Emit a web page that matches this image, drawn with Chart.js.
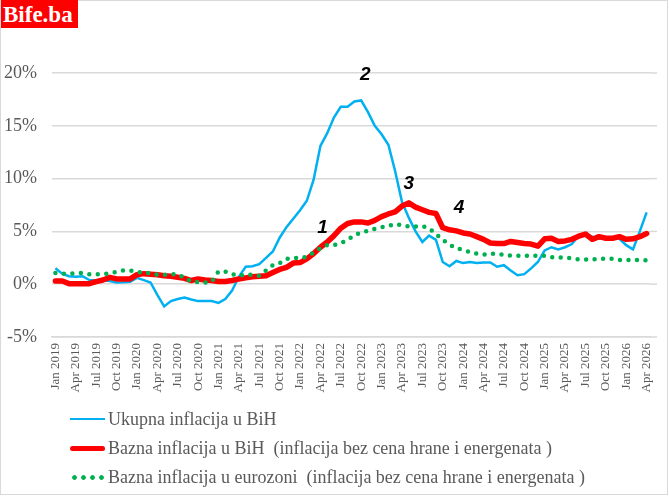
<!DOCTYPE html>
<html>
<head>
<meta charset="utf-8">
<script src="https://cdn.jsdelivr.net/npm/chart.js@4.4.1/dist/chart.umd.min.js"></script>
<style>
  body { margin: 0; background: #fff; }
  #wrap { position: relative; width: 669px; height: 498px; }
  #frame { position: absolute; left: 0; top: 0; width: 666px; height: 493px; border: 1px solid #d9d9d9; }
  #logo { position: absolute; left: 1px; top: 0; width: 77px; height: 28px; background: #ff0000;
          color: #fff; font: bold 23px "Liberation Serif", serif; line-height: 29px; padding-left: 2px; box-sizing: border-box; }
  .leg { position: absolute; left: 70px; height: 24px; display: flex; align-items: center;
         font: 18px "Liberation Serif", serif; color: #595959; white-space: pre; }
  .sample { width: 35px; margin-right: 3px; }
</style>
</head>
<body>
<div id="wrap">
  <canvas id="myChart" width="669" height="498"></canvas>
  <div id="frame"></div>
  <div id="logo">Bife.ba</div>
  <div class="leg" style="top:407px"><span class="sample" style="height:2px;background:#00b0f0"></span>Ukupna inflacija u BiH</div>
  <div class="leg" style="top:436px"><span class="sample" style="height:5px;border-radius:3px;background:#ff0000"></span>Bazna inflacija u BiH  (inflacija bez cena hrane i energenata )</div>
  <div class="leg" style="top:465px"><span class="sample" style="height:5px;background:radial-gradient(circle, #00b050 2px, transparent 2.6px) repeat-x;background-size:9px 5px"></span>Bazna inflacija u eurozoni  (inflacija bez cena hrane i energenata )</div>
</div>
<script>
const monthNames = ['Jan', 'Feb', 'Mar', 'Apr', 'May', 'Jun', 'Jul', 'Aug', 'Sep', 'Oct', 'Nov', 'Dec']
const firstYear = 2019
const monthCount = 88 // Jan 2019 .. Apr 2026

// Ukupna inflacija u BiH (%)
const ukupnaBiH = [
  1.5, 1.0, 0.75, 0.7, 0.76, 0.4, 0.38, 0.38, 0.3, 0.16, 0.18, 0.22,
  0.6, 0.38, 0.16, -1.0, -2.1, -1.6, -1.4, -1.26, -1.45, -1.6, -1.6, -1.6,
  -1.77, -1.4, -0.6, 0.7, 1.65, 1.7, 1.9, 2.5, 3.1, 4.4, 5.4, 6.2,
  7.0, 7.9, 9.9, 13.1, 14.3, 15.8, 16.8, 16.8, 17.3, 17.4, 16.3, 15.0,
  14.2, 13.2, 10.7, 7.8, 6.3, 5.0, 4.0, 4.6, 4.2, 2.1, 1.7, 2.2,
  2.0, 2.1, 2.0, 2.05, 2.05, 1.65, 1.8, 1.3, 0.85, 0.95, 1.5, 2.1,
  3.2, 3.5, 3.3, 3.5, 3.8, 4.6, 4.8, 4.5, 4.3, 4.4, 4.4, 4.3,
  3.7, 3.3, 5.0, 6.8
]

// Bazna inflacija u BiH (%)
const baznaBiH = [
  0.3, 0.3, 0.05, 0.05, 0.05, 0.05, 0.25, 0.4, 0.65, 0.5, 0.5, 0.5,
  0.9, 1.0, 0.95, 0.9, 0.8, 0.75, 0.65, 0.55, 0.35, 0.5, 0.4, 0.35,
  0.25, 0.25, 0.35, 0.5, 0.6, 0.7, 0.75, 0.8, 1.1, 1.4, 1.6, 2.0,
  2.05, 2.4, 2.9, 3.5, 4.0, 4.6, 5.3, 5.75, 5.9, 5.9, 5.8, 6.05,
  6.4, 6.65, 6.85, 7.4, 7.7, 7.3, 7.05, 6.8, 6.7, 5.35, 5.15, 5.05,
  4.85, 4.75, 4.5, 4.25, 3.9, 3.85, 3.85, 4.05, 3.95, 3.85, 3.8, 3.6,
  4.3, 4.35, 4.05, 4.1, 4.25, 4.55, 4.75, 4.25, 4.5, 4.35, 4.35, 4.5,
  4.25, 4.3, 4.5, 4.8
]

// Bazna inflacija u eurozoni (%)
const baznaEurozona = [
  1.05, 1.0, 1.0, 1.05, 1.05, 0.95, 0.95, 0.95, 1.05, 1.15, 1.3, 1.3,
  1.15, 1.1, 1.05, 0.9, 0.9, 0.95, 0.95, 0.6, 0.25, 0.2, 0.15, 0.25,
  1.2, 1.2, 0.95, 0.8, 0.9, 0.9, 0.8, 1.3, 1.8, 2.0, 2.4, 2.5,
  2.45, 2.6, 3.0, 3.4, 3.7, 3.7, 3.9, 4.2, 4.65, 4.9, 5.05, 5.25,
  5.4, 5.5, 5.7, 5.6, 5.45, 5.45, 5.5, 5.3, 4.75, 4.2, 3.75, 3.4,
  3.25, 3.05, 2.9, 2.8, 2.9, 2.85, 2.8, 2.7, 2.7, 2.7, 2.7, 2.7,
  2.7, 2.55, 2.55, 2.5, 2.45, 2.35, 2.35, 2.35, 2.4, 2.4, 2.4, 2.3,
  2.3, 2.3, 2.3, 2.25
]

// numbered markers on the chart (month index, value)
const markerTexts = ['1', '2', '3', '4']
const markerIdx = [39.3, 45.6, 52, 59.4]
const markerVal = [5.3, 19.8, 9.55, 7.2]

let labels = []
for (let i = 0; i < monthCount; i++) {
    labels.push(monthNames[i % 12] + ' ' + (firstYear + Math.floor(i / 12)))
}

// excel plot area runs a bit past the last point, so stretch the gridlines
const gridExtend = {
    id: 'gridExtend',
    beforeDatasetsDraw(chart) {
        const c = chart.ctx
        const area = chart.chartArea
        const ys = chart.scales.y
        c.save()
        c.strokeStyle = '#d9d9d9'
        c.lineWidth = 1.5
        ys.ticks.forEach((t) => {
            const y = ys.getPixelForValue(t.value)
            c.beginPath()
            c.moveTo(area.right, y)
            c.lineTo(area.right + 7, y)
            c.stroke()
        })
        c.restore()
    }
}

const markerPlugin = {
    id: 'markers',
    afterDatasetsDraw(chart) {
        const c = chart.ctx
        const xs = chart.scales.x
        const ys = chart.scales.y
        c.save()
        c.fillStyle = '#000'
        c.font = 'italic bold 19px "Liberation Sans", Arial, sans-serif'
        c.textAlign = 'center'
        c.textBaseline = 'middle'
        markerTexts.forEach((t, i) => {
            c.fillText(t, xs.getPixelForValue(markerIdx[i]), ys.getPixelForValue(markerVal[i]))
        })
        c.restore()
    }
}

const ctx = document.getElementById('myChart')

new Chart(ctx, {
    type: 'line',
    data: {
        labels: labels,
        datasets: [{
            label: 'Ukupna inflacija u BiH',
            data: ukupnaBiH,
            borderColor: '#00b0f0',
            borderWidth: 2.5,
            order: 3
        }, {
            label: 'Bazna inflacija u BiH  (inflacija bez cena hrane i energenata )',
            data: baznaBiH,
            borderColor: '#ff0000',
            borderWidth: 5.5,
            borderJoinStyle: 'round',
            borderCapStyle: 'round',
            order: 2
        }, {
            label: 'Bazna inflacija u eurozoni  (inflacija bez cena hrane i energenata )',
            data: baznaEurozona,
            borderColor: '#00b050',
            borderWidth: 4.5,
            borderDash: [0, 8.5],
            borderCapStyle: 'round',
            order: 1
        }]
    },
    options: {
        responsive: false,
        animation: false,
        elements: { point: { radius: 0 }, line: { tension: 0 } },
        layout: { padding: { top: 73, right: 19, left: 0, bottom: 0 } },
        plugins: { legend: { display: false }, tooltip: { enabled: false } },
        scales: {
            x: {
                offset: true,
                grid: { display: false, drawTicks: false },
                border: { display: true, color: '#d9d9d9', width: 1.5 },
                afterFit: (scale) => { scale.height = 161 },
                ticks: {
                    autoSkip: false,
                    minRotation: 90,
                    maxRotation: 90,
                    padding: 6,
                    color: '#595959',
                    font: { family: '"Liberation Serif", serif', size: 13 },
                    callback: function (value, index) {
                        return index % 3 === 0 ? this.getLabelForValue(value) : ''
                    }
                }
            },
            y: {
                min: -5,
                max: 20,
                grid: { color: '#d9d9d9', lineWidth: 1.5, drawTicks: false },
                border: { display: false },
                afterFit: (scale) => { scale.width = 52 },
                ticks: {
                    stepSize: 5,
                    padding: 15,
                    color: '#595959',
                    font: { family: '"Liberation Serif", serif', size: 18 },
                    callback: (v) => v + '%'
                }
            }
        }
    },
    plugins: [gridExtend, markerPlugin]
})
</script>
</body>
</html>
